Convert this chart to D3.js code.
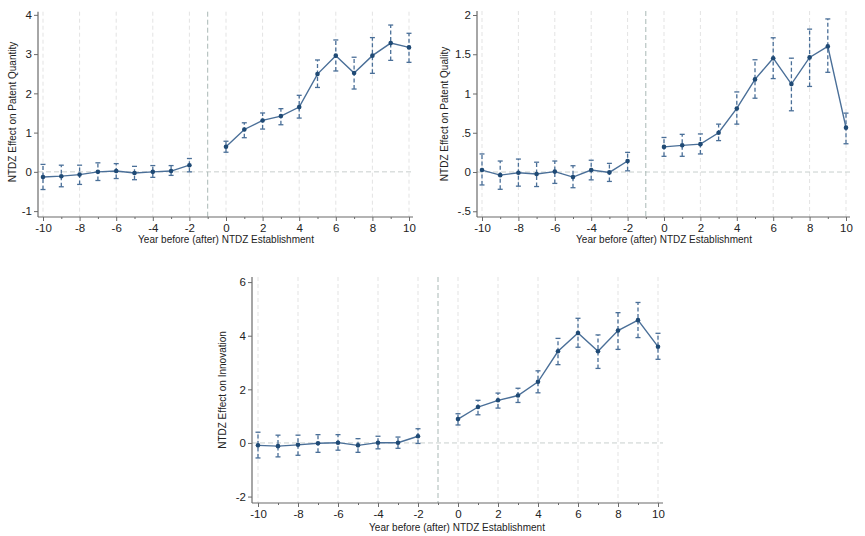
<!DOCTYPE html>
<html>
<head>
<meta charset="utf-8">
<script src="https://cdn.jsdelivr.net/npm/d3@7"></script>
<style>
  html, body { margin: 0; padding: 0; background: #fff; }
  svg { display: block; font-family: "Liberation Sans", Arial, Helvetica, sans-serif; }
</style>
</head>
<body>
<svg id="chart" width="865" height="536"></svg>
<script>
// ---- data ----
const years = [-10,-9,-8,-7,-6,-5,-4,-3,-2,0,1,2,3,4,5,6,7,8,9,10];
const xTicks = [-10,-8,-6,-4,-2,0,2,4,6,8,10];
const xTickLabels = ["-10","-8","-6","-4","-2","0","2","4","6","8","10"];
const xMinorTicks = [-9,-7,-5,-3,-1,1,3,5,7,9];

const quantityEst = [-0.13,-0.11,-0.07,0.00,0.02,-0.03,0.00,0.02,0.17, 0.64,1.08,1.31,1.42,1.65,2.49,2.96,2.52,2.96,3.28,3.17];
const quantityLo  = [-0.45,-0.38,-0.32,-0.22,-0.17,-0.20,-0.14,-0.09,0.00, 0.50,0.87,1.09,1.20,1.37,2.15,2.57,2.11,2.51,2.84,2.79];
const quantityHi  = [0.19,0.17,0.17,0.23,0.21,0.14,0.16,0.16,0.34, 0.78,1.25,1.50,1.61,1.95,2.85,3.36,2.92,3.42,3.74,3.53];
const quantityTicks = [-1,0,1,2,3,4];
const quantityTickLabels = ["-1","0","1","2","3","4"];

const qualityEst = [0.025,-0.04,-0.01,-0.025,0.005,-0.065,0.025,-0.005,0.14, 0.32,0.34,0.355,0.50,0.81,1.18,1.45,1.12,1.46,1.60,0.565];
const qualityLo  = [-0.165,-0.22,-0.18,-0.185,-0.145,-0.20,-0.10,-0.12,0.015, 0.20,0.20,0.23,0.40,0.61,0.94,1.19,0.78,1.09,1.27,0.36];
const qualityHi  = [0.23,0.14,0.165,0.125,0.14,0.08,0.15,0.11,0.25, 0.44,0.48,0.485,0.61,1.02,1.43,1.71,1.45,1.82,1.95,0.75];
const qualityTicks = [-0.5,0,0.5,1,1.5,2];
const qualityTickLabels = ["-.5","0",".5","1","1.5","2"];

const innovEst = [-0.09,-0.12,-0.07,-0.01,0.01,-0.09,0.01,0.01,0.25, 0.89,1.34,1.59,1.77,2.28,3.42,4.10,3.42,4.19,4.58,3.59];
const innovLo  = [-0.56,-0.52,-0.46,-0.35,-0.27,-0.35,-0.22,-0.20,-0.02, 0.67,1.05,1.30,1.51,1.87,2.92,3.57,2.78,3.49,3.93,3.12];
const innovHi  = [0.40,0.29,0.29,0.31,0.31,0.16,0.25,0.22,0.53, 1.09,1.59,1.86,2.04,2.69,3.90,4.65,4.03,4.86,5.24,4.09];
const innovTicks = [-2,0,2,4,6];
const innovTickLabels = ["-2","0","2","4","6"];

const xTitle = "Year before (after) NTDZ Establishment";

// ---- drawing ----
const svg = d3.select("#chart");
const lineColor = "#4a6f98";
const markerColor = "#1f4a75";
const axisColor = "#6b6b6b";

function panel(cfg) {
  const g = svg.append("g");
  const x = d3.scaleLinear().domain([-10, 10]).range([cfg.x0, cfg.x1]);
  const y = d3.scaleLinear().domain(cfg.yDomain).range([cfg.yBottom, cfg.yTop]);
  const plotLeft = cfg.axisX, plotRight = cfg.axisEnd;

  // vertical grid lines at major ticks
  g.selectAll("line.grid").data(xTicks).join("line")
    .attr("x1", d => x(d)).attr("x2", d => x(d))
    .attr("y1", cfg.yTop).attr("y2", cfg.yBottom)
    .attr("stroke", "#e3e3e3").attr("stroke-width", 1)
    .attr("stroke-dasharray", "4,3");

  // zero reference line
  g.append("line")
    .attr("x1", plotLeft).attr("x2", plotRight)
    .attr("y1", y(0)).attr("y2", y(0))
    .attr("stroke", "#c8cfcd").attr("stroke-width", 1)
    .attr("stroke-dasharray", "5,3");

  // event line at -1
  g.append("line")
    .attr("x1", x(-1)).attr("x2", x(-1))
    .attr("y1", cfg.yTop).attr("y2", cfg.yBottom)
    .attr("stroke", "#a9b8b5").attr("stroke-width", 1)
    .attr("stroke-dasharray", "5,3");

  // axes
  const yAxis = d3.axisLeft(y).tickValues(cfg.yTicks)
    .tickFormat((d, i) => cfg.yTickLabels[i]).tickSize(4).tickPadding(2);
  const ya = g.append("g").attr("transform", `translate(${cfg.axisX},0)`).call(yAxis);
  ya.select(".domain").attr("d", `M-0,${cfg.yTop}V${cfg.yBottom}`);

  const xAxis = d3.axisBottom(x).tickValues(xTicks)
    .tickFormat((d, i) => xTickLabels[i]).tickSize(4).tickPadding(3);
  const xa = g.append("g").attr("transform", `translate(0,${cfg.yBottom})`).call(xAxis);
  xa.select(".domain").attr("d", `M${plotLeft},0H${plotRight}`);
  const xm = g.append("g").attr("transform", `translate(0,${cfg.yBottom})`)
    .call(d3.axisBottom(x).tickValues(xMinorTicks).tickSize(2).tickFormat(""));
  xm.select(".domain").remove();

  [ya, xa, xm].forEach(a => {
    a.selectAll(".domain").attr("stroke", axisColor).attr("stroke-width", 1.2);
    a.selectAll(".tick line").attr("stroke", axisColor);
    a.selectAll(".tick text").attr("fill", "#222").attr("font-size", 11.5)
      .attr("font-family", "Liberation Sans, Arial, sans-serif");
  });

  // data
  const pts = years.map((yr, i) => ({ yr, est: cfg.est[i], lo: cfg.lo[i], hi: cfg.hi[i] }));

  // CI bars (dashed) with caps
  const ci = g.append("g");
  ci.selectAll("line.ci").data(pts).join("line")
    .attr("x1", d => x(d.yr)).attr("x2", d => x(d.yr))
    .attr("y1", d => y(d.lo)).attr("y2", d => y(d.hi))
    .attr("stroke", lineColor).attr("stroke-width", 1.3)
    .attr("stroke-dasharray", "4,2.5");
  ["lo", "hi"].forEach(k => {
    ci.selectAll("line.cap" + k).data(pts).join("line")
      .attr("x1", d => x(d.yr) - 2.5).attr("x2", d => x(d.yr) + 2.5)
      .attr("y1", d => y(d[k])).attr("y2", d => y(d[k]))
      .attr("stroke", lineColor).attr("stroke-width", 1.3);
  });

  // connected lines (separate before / after)
  const line = d3.line().x(d => x(d.yr)).y(d => y(d.est));
  [pts.filter(d => d.yr < -1), pts.filter(d => d.yr > -1)].forEach(seg => {
    g.append("path").datum(seg).attr("d", line)
      .attr("fill", "none").attr("stroke", lineColor).attr("stroke-width", 1.4);
  });

  // markers
  g.selectAll("circle.pt").data(pts).join("circle")
    .attr("cx", d => x(d.yr)).attr("cy", d => y(d.est)).attr("r", 2.3)
    .attr("fill", markerColor);

  // titles
  g.append("text").attr("x", cfg.xTitleX).attr("y", cfg.xTitleY)
    .attr("text-anchor", "middle").attr("font-size", 10).attr("fill", "#222")
    .text(xTitle);
  g.append("text")
    .attr("transform", `translate(${cfg.yTitleX},${cfg.yTitleY}) rotate(-90)`)
    .attr("text-anchor", "middle").attr("font-size", 10).attr("fill", "#222")
    .text(cfg.yTitle);
}

panel({
  x0: 43, x1: 409, axisX: 38, axisEnd: 413,
  yDomain: [-1.15, 4.08], yBottom: 217, yTop: 11.7,
  yTicks: quantityTicks, yTickLabels: quantityTickLabels,
  est: quantityEst, lo: quantityLo, hi: quantityHi,
  xTitleX: 226, xTitleY: 243,
  yTitleX: 16, yTitleY: 112, yTitle: "NTDZ Effect on Patent Quantity"
});

panel({
  x0: 482, x1: 846, axisX: 477, axisEnd: 850,
  yDomain: [-0.573, 2.051], yBottom: 217, yTop: 11,
  yTicks: qualityTicks, yTickLabels: qualityTickLabels,
  est: qualityEst, lo: qualityLo, hi: qualityHi,
  xTitleX: 664, xTitleY: 243,
  yTitleX: 448, yTitleY: 114, yTitle: "NTDZ Effect on Patent Quality"
});

panel({
  x0: 258, x1: 658, axisX: 252, axisEnd: 663,
  yDomain: [-2.24, 6.19], yBottom: 503, yTop: 277,
  yTicks: innovTicks, yTickLabels: innovTickLabels,
  est: innovEst, lo: innovLo, hi: innovHi,
  xTitleX: 457, xTitleY: 531,
  yTitleX: 226, yTitleY: 390, yTitle: "NTDZ Effect on Innovation"
});
</script>
</body>
</html>
